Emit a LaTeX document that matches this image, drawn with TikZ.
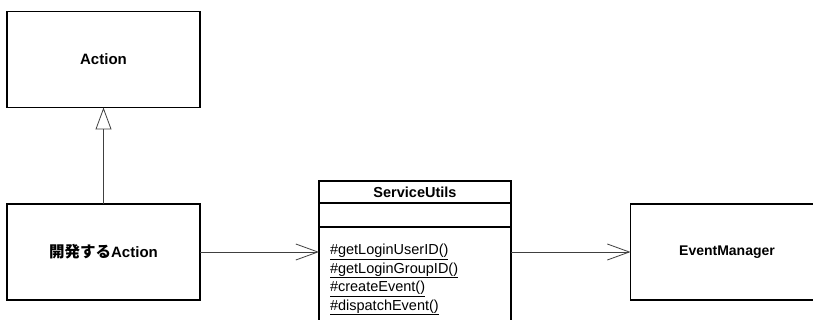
\documentclass[tikz,border=0pt]{standalone}
\usepackage{fontspec}
\setmainfont{Liberation Sans}
\newfontfamily\jpfont{Noto Sans CJK JP}
\usetikzlibrary{arrows.meta}

\tikzstyle{classbox} = [draw=black, line width=1.2pt, outer sep=0, inner sep=0,
    minimum width=193, minimum height=96, fill=white,
    font=\fontsize{15}{17}\selectfont\bfseries, align=center]
\tikzstyle{part} = [draw=black, line width=1.2pt, outer sep=0, inner sep=0,
    minimum width=192, fill=white, font=\fontsize{14.5}{17}\selectfont\bfseries]
\tikzstyle{methods} = [draw=black, line width=1.2pt, outer sep=0,
    inner xsep=11, inner ysep=17, text width=170, align=left,
    font=\fontsize{14.5}{18.5}\selectfont]
\tikzstyle{link} = [draw=black!75, line width=0.8pt]

\begin{document}
\begin{tikzpicture}[x=1pt, y=-1pt]
\useasboundingbox (0,0) rectangle (813,320);
\clip (0,0) rectangle (813,320);

%%% classes
\node[classbox] (act) at (103.5,59.5) {Action};
\node[classbox] (dev) at (103.5,252) {{\jpfont\fontsize{15.5}{17}\selectfont 開発する}Action};
\node[classbox, font=\fontsize{14}{17}\selectfont\bfseries] (em) at (727,252) {EventManager};

%%% ServiceUtils
\node[part, minimum height=22, anchor=north] (sutitle) at (415,181) {ServiceUtils};
\node[part, minimum height=24, anchor=north] (suattr) at (sutitle.south) {};
\node[methods, anchor=north] (sumeth) at (suattr.south) {\underline{\#getLoginUserID()}\\
\underline{\#getLoginGroupID()}\\
\underline{\#createEvent()}\\
\underline{\#dispatchEvent()}};

%%% links
\draw[link, -{Triangle[open, length=22pt, width=16pt, line width=0.8pt]}] (dev.north) -- (act.south);
\draw[link, -{Straight Barb[length=22pt, width=16pt, line width=0.8pt]}] (dev.east) -- (dev.east -| sumeth.west);
\draw[link, -{Straight Barb[length=22pt, width=16pt, line width=0.8pt]}] (em.west -| sumeth.east) -- (em.west);

\end{tikzpicture}
\end{document}
